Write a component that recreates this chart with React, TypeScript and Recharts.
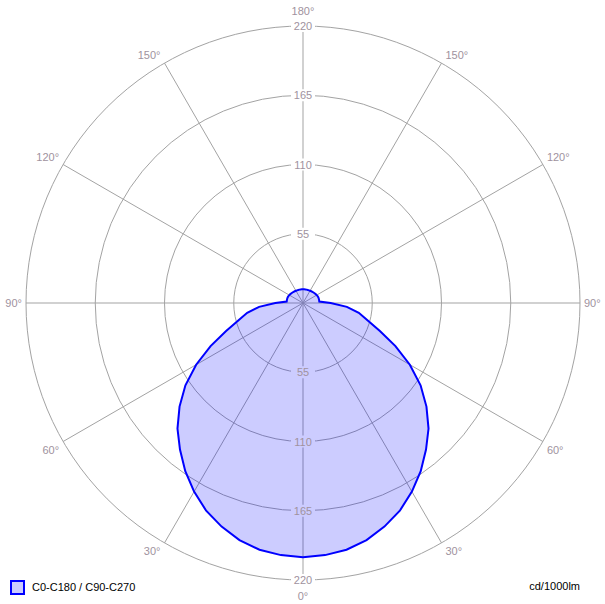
import React from 'react';
import { RadarChart, Radar, PolarGrid, PolarAngleAxis, PolarRadiusAxis } from 'recharts';

// gamma angles (deg) for one half-plane, 0 = straight down, 180 = straight up
const gammaAngles = [
  0, 5, 10, 15, 20, 25, 30, 35, 40, 45, 50, 55, 60, 65, 70, 75, 80, 85, 90,
  95, 100, 105, 110, 115, 120, 125, 130, 135, 140, 145, 150, 155, 160, 165, 170, 175, 180,
];
// luminous intensity (cd/1000lm), C0-C180 / C90-C270 (symmetric)
const intensityHalf = [
  202, 201, 199, 195, 189, 182, 173, 163, 152, 141, 128, 114, 98, 81, 65, 53, 45, 35, 22,
  13, 13, 13, 13, 12.8, 12.5, 12.3, 12, 11.8, 11.6, 11.4, 11.2, 11.1, 11, 11, 10.9, 10.9, 10.9,
];
const radiusTicks = [0, 55, 110, 165, 220];
const spokeAngles = [0, 30, 60, 90, 120, 150, 180, 210, 240, 270, 300, 330];
const seriesName = 'C0-C180 / C90-C270';
const unitLabel = 'cd/1000lm';

const W = 605;
const H = 604;
const CX = 303;
const CY = 303;
const R = 277;
const FONT = '"Liberation Sans", Arial, sans-serif';
const LABEL_COLOR = '#a0929e';
const GRID_COLOR = '#a3a3a3';
const LINE_COLOR = '#0000ff';
const FILL_BLEND = '#ccccff';

const N = (gammaAngles.length - 1) * 2; // 72 points round the circle
const data: { key: number; gamma: number; value: number }[] = [];
for (let i = 0; i < N; i++) {
  const half = i <= gammaAngles.length - 1 ? i : N - i;
  data.push({ key: i, gamma: gammaAngles[half], value: intensityHalf[half] });
}

const AngleTick = (props: any) => {
  const { x, y, index } = props;
  const d = data[index];
  if (!d || d.gamma % 30 !== 0) return null;
  let ux = x - CX;
  let uy = y - CY;
  const n = Math.sqrt(ux * ux + uy * uy) || 1;
  ux /= n;
  uy /= n;
  const side = Math.abs(ux) < 0.1;
  const lx = CX + R * ux + (ux > 0.1 ? 4 : ux < -0.1 ? -4 : 0);
  const ly =
    CY + R * uy + (side ? (uy > 0 ? 16 : -15) : uy > 0.1 ? 8 : uy < -0.1 ? -8 : 0);
  const anchor = ux > 0.1 ? 'start' : ux < -0.1 ? 'end' : 'middle';
  return (
    <text
      x={lx}
      y={ly}
      textAnchor={anchor}
      dominantBaseline="central"
      fontFamily={FONT}
      fontSize={11}
      fill={LABEL_COLOR}
    >
      {d.gamma + '°'}
    </text>
  );
};

const RadiusTick = (props: any) => {
  const { x, y, payload } = props;
  const v = payload?.value;
  if (!v) return null;
  const yBot = 2 * CY - y;
  const topInside = v < intensityHalf[intensityHalf.length - 1];
  const botInside = v < intensityHalf[0];
  const label = (yy: number, inside: boolean) => (
    <g>
      <rect x={x - 12} y={yy - 6} width={24} height={12} fill={inside ? FILL_BLEND : '#ffffff'} />
      <text
        x={x}
        y={yy}
        textAnchor="middle"
        dominantBaseline="central"
        fontFamily={FONT}
        fontSize={11}
        fill={LABEL_COLOR}
      >
        {String(v)}
      </text>
    </g>
  );
  return (
    <g>
      {label(y, topInside)}
      {label(yBot, botInside)}
    </g>
  );
};

export default function App() {
  return (
    <div style={{ position: 'absolute', left: 0, top: 0, width: W, height: H, background: '#fff' }}>
      <RadarChart
        width={W}
        height={H}
        cx={CX}
        cy={CY}
        outerRadius={R}
        innerRadius={0}
        startAngle={-90}
        endAngle={-450}
        data={data}
        margin={{ top: 0, right: 0, bottom: 0, left: 0 }}
      >
        <PolarGrid gridType="circle" stroke={GRID_COLOR} polarAngles={spokeAngles} />
        <Radar
          name={seriesName}
          dataKey="value"
          stroke={LINE_COLOR}
          strokeWidth={2}
          fill={LINE_COLOR}
          fillOpacity={0.2}
          isAnimationActive={false}
          dot={false}
        />
        <PolarAngleAxis dataKey="key" tick={AngleTick} tickLine={false} axisLine={false} />
        <PolarRadiusAxis
          angle={90}
          domain={[0, 220]}
          ticks={radiusTicks as any}
          tickCount={5}
          type="number"
          tick={RadiusTick}
          axisLine={false}
          tickLine={false}
        />
      </RadarChart>
      <div
        style={{
          position: 'absolute',
          left: 10,
          top: 580,
          width: 11,
          height: 11,
          border: '2px solid ' + LINE_COLOR,
          background: FILL_BLEND,
        }}
      />
      <div
        style={{
          position: 'absolute',
          left: 32,
          top: 580,
          height: 15,
          lineHeight: '15px',
          fontFamily: FONT,
          fontSize: 11,
          color: '#000',
          whiteSpace: 'nowrap',
        }}
      >
        {seriesName}
      </div>
      <div
        style={{
          position: 'absolute',
          right: W - 580,
          top: 579,
          height: 15,
          lineHeight: '15px',
          fontFamily: FONT,
          fontSize: 11,
          color: '#000',
          whiteSpace: 'nowrap',
        }}
      >
        {unitLabel}
      </div>
    </div>
  );
}
